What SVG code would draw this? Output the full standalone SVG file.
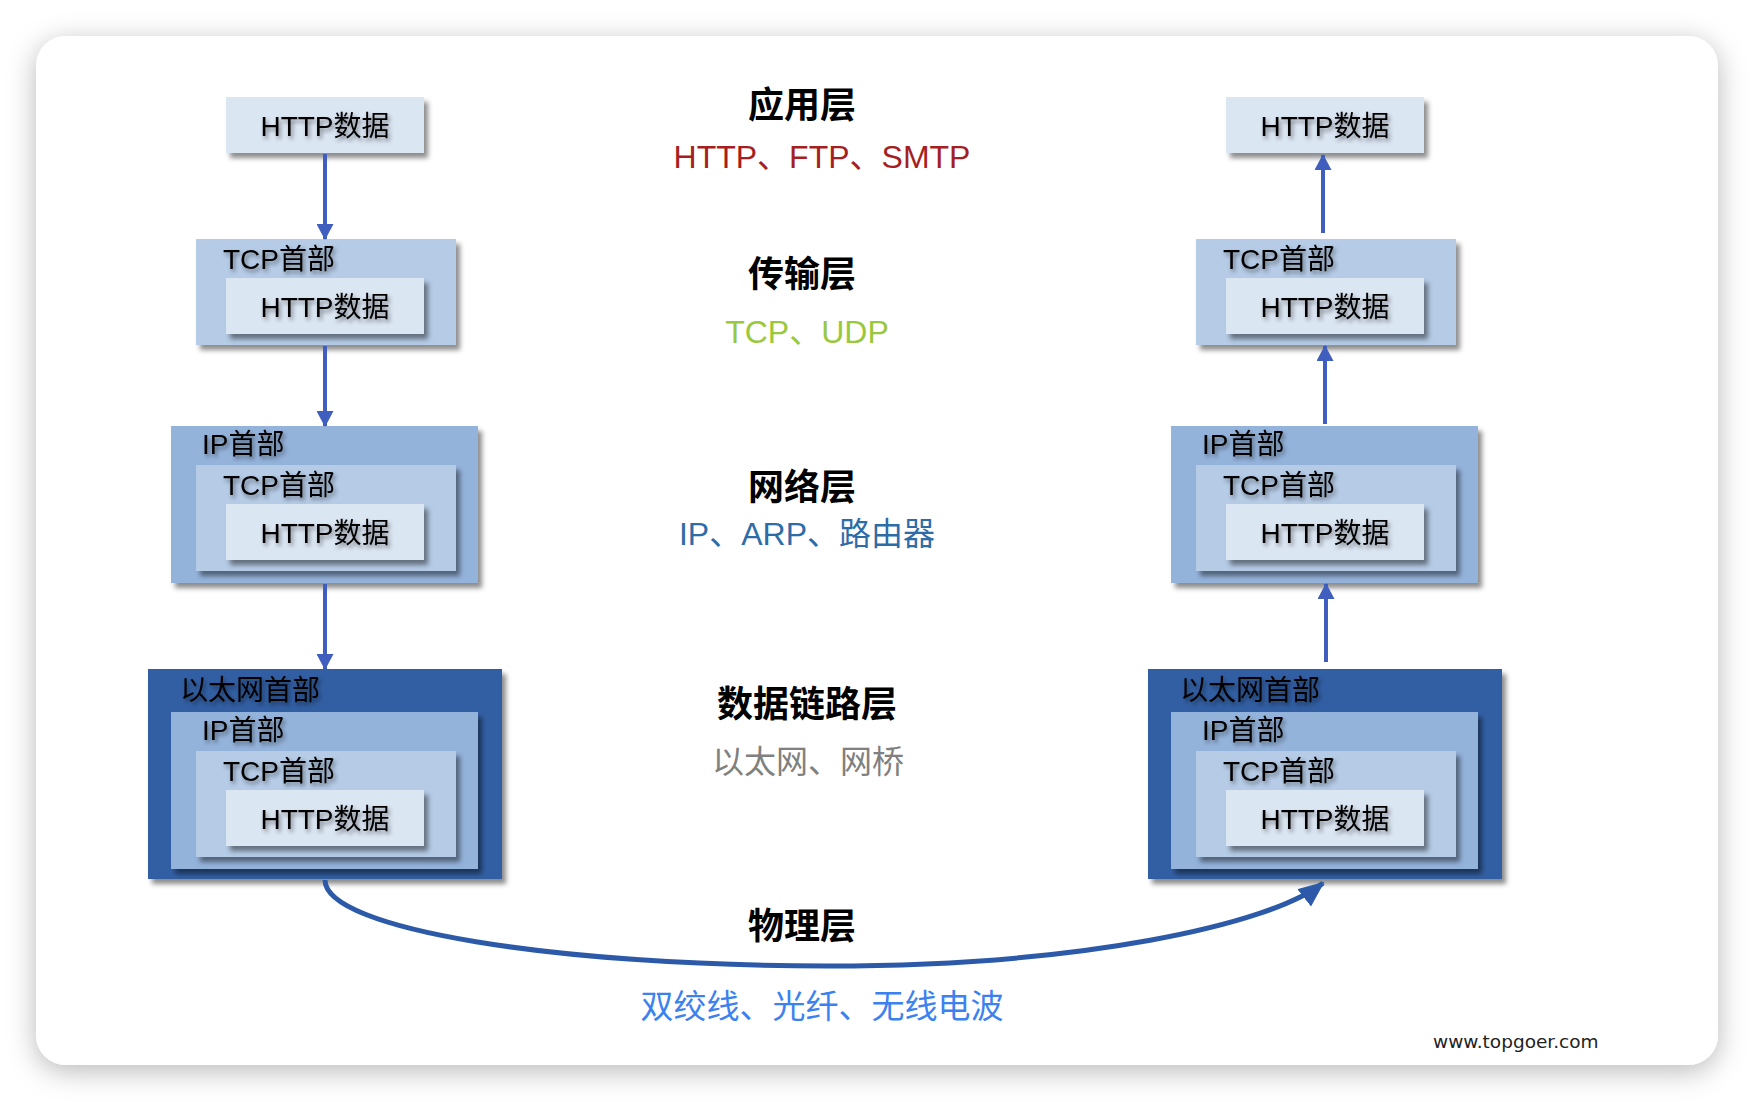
<svg xmlns="http://www.w3.org/2000/svg" width="1754" height="1102" viewBox="0 0 1754 1102">
<defs>
<filter id="cardShadow" x="-5%" y="-5%" width="110%" height="112%">
<feDropShadow dx="0" dy="6" stdDeviation="14" flood-color="#000" flood-opacity="0.28"/>
</filter>
<filter id="boxShadow" x="-10%" y="-10%" width="125%" height="130%">
<feDropShadow dx="4" dy="5" stdDeviation="2.5" flood-color="#000" flood-opacity="0.45"/>
</filter>
<filter id="textShadow" x="-10%" y="-30%" width="125%" height="170%">
<feDropShadow dx="2" dy="3" stdDeviation="2" flood-color="#000" flood-opacity="0.45"/>
</filter>
<marker id="arrV" markerUnits="userSpaceOnUse" markerWidth="16" markerHeight="17" refX="15" refY="8.5" orient="auto">
<path d="M0,0 L16,8.5 L0,17 z" fill="#3f5ebd"/>
</marker>
<marker id="arrC" markerUnits="userSpaceOnUse" markerWidth="26" markerHeight="22" refX="24" refY="11" orient="auto">
<path d="M0,0 L26,11 L0,22 z" fill="#2c5aa8"/>
</marker>
<g id="httpBox">
<rect x="0" y="0" width="198" height="56" class="http" filter="url(#boxShadow)"/>
<text x="99" y="39" class="lbl" text-anchor="middle">HTTP数据</text>
</g>
<g id="tcpBox">
<rect x="0" y="0" width="260" height="106" class="tcp" filter="url(#boxShadow)"/>
<text x="27" y="30" class="lbl">TCP首部</text>
<use href="#httpBox" x="30" y="39"/>
</g>
<g id="ipBox">
<rect x="0" y="0" width="307" height="157" class="ip" filter="url(#boxShadow)"/>
<text x="31" y="28" class="lbl">IP首部</text>
<use href="#tcpBox" x="25" y="39"/>
</g>
<g id="ethBox">
<rect x="0" y="0" width="354" height="210" class="eth" filter="url(#boxShadow)"/>
<text x="32" y="31" class="lbl">以太网首部</text>
<use href="#ipBox" x="23" y="43"/>
</g>
</defs>
<style>
.http{fill:#dbe6f3}
.tcp{fill:#b5cbe6}
.ip{fill:#94b3db}
.eth{fill:#335fa3}
.lbl{font-family:"Liberation Sans","Noto Sans CJK SC",sans-serif;font-size:28px;fill:#000;filter:url(#textShadow)}
.title{font-family:"Noto Sans CJK SC",sans-serif;font-size:36px;font-weight:700;fill:#000;text-anchor:middle}
.proto{font-family:"Liberation Sans","Noto Sans CJK SC",sans-serif;font-size:32px;text-anchor:middle}
.vline{stroke:#3f5ebd;stroke-width:4;fill:none;marker-end:url(#arrV)}
</style>
<rect x="0" y="0" width="1754" height="1102" fill="#ffffff"/>
<rect id="card" x="36" y="36" width="1682" height="1029" rx="30" ry="30" fill="#ffffff" filter="url(#cardShadow)"/>

<g id="left-app"><use href="#httpBox" x="226" y="97"/></g>
<g id="left-transport"><use href="#tcpBox" x="196" y="239"/></g>
<g id="left-network"><use href="#ipBox" x="171" y="426"/></g>
<g id="left-link"><use href="#ethBox" x="148" y="669"/></g>

<g id="right-app"><use href="#httpBox" x="1226" y="97"/></g>
<g id="right-transport"><use href="#tcpBox" x="1196" y="239"/></g>
<g id="right-network"><use href="#ipBox" x="1171" y="426"/></g>
<g id="right-link"><use href="#ethBox" x="1148" y="669"/></g>

<g id="connectors">
<line class="vline" x1="325" y1="154" x2="325" y2="239"/>
<line class="vline" x1="325" y1="346" x2="325" y2="426"/>
<line class="vline" x1="325" y1="584" x2="325" y2="669"/>
<line class="vline" x1="1323" y1="233" x2="1323" y2="155"/>
<line class="vline" x1="1325" y1="424" x2="1325" y2="346"/>
<line class="vline" x1="1326" y1="662" x2="1326" y2="584"/>
<path d="M325,880 C325,930 560,966 828,966 C1080,966 1270,925 1323,883" stroke="#2c5aa8" stroke-width="5" fill="none" marker-end="url(#arrC)"/>
</g>

<g id="layer-labels">
<text x="802" y="118" class="title">应用层</text>
<text x="822" y="168" class="proto" fill="#a61e22">HTTP、FTP、SMTP</text>
<text x="802" y="287" class="title">传输层</text>
<text x="807" y="343" class="proto" fill="#9ac83c">TCP、UDP</text>
<text x="802" y="500" class="title">网络层</text>
<text x="807" y="545" class="proto" fill="#2e6ca8">IP、ARP、路由器</text>
<text x="807" y="717" class="title">数据链路层</text>
<text x="808" y="773" class="proto" fill="#808080">以太网、网桥</text>
<text x="802" y="939" class="title">物理层</text>
<text x="822" y="1018" class="proto" fill="#3b82f0" style="font-size:33px">双绞线、光纤、无线电波</text>
<text x="1433" y="1048" font-family="DejaVu Sans, sans-serif" font-size="18.5" fill="#222">www.topgoer.com</text>
</g>
</svg>
